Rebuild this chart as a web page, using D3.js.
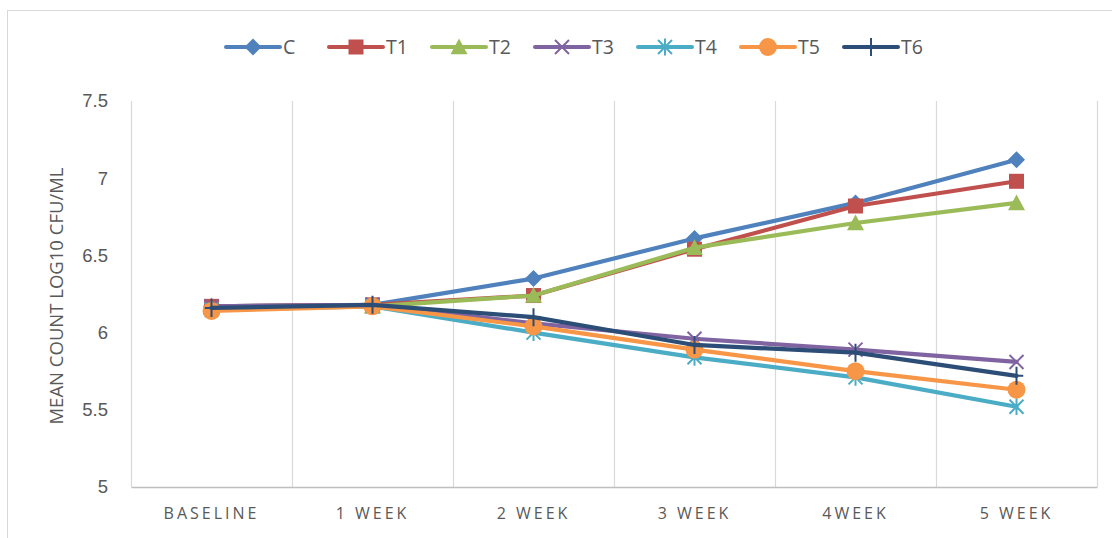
<!DOCTYPE html>
<html>
<head>
<meta charset="utf-8">
<script src="https://cdn.jsdelivr.net/npm/d3@7"></script>
<style>
  html, body { margin: 0; padding: 0; background: #fff; }
  svg { display: block; font-family: "Open Sans", "Liberation Sans", sans-serif; }
</style>
</head>
<body>
<svg id="chart" width="1112" height="538"></svg>
<script>
// Time points along the x axis
const categories = ["BASELINE", "1 WEEK", "2 WEEK", "3 WEEK", "4WEEK", "5 WEEK"];

// Mean count (log10 CFU/ml) for each group
const seriesC  = [6.17, 6.18, 6.35, 6.61, 6.84, 7.12];
const seriesT1 = [6.17, 6.18, 6.24, 6.54, 6.82, 6.98];
const seriesT2 = [6.16, 6.17, 6.24, 6.55, 6.71, 6.84];
const seriesT3 = [6.17, 6.18, 6.06, 5.96, 5.89, 5.81];
const seriesT4 = [6.15, 6.17, 6.00, 5.84, 5.71, 5.52];
const seriesT5 = [6.14, 6.17, 6.04, 5.89, 5.75, 5.63];
const seriesT6 = [6.16, 6.18, 6.10, 5.92, 5.87, 5.72];

const seriesNames = ["C", "T1", "T2", "T3", "T4", "T5", "T6"];
const yTicks = [5, 5.5, 6, 6.5, 7, 7.5];
const yTitle = "MEAN COUNT LOG10 CFU/ML";

const series = [
  { name: "C",  values: seriesC,  color: "#4F81BD", marker: "diamond" },
  { name: "T1", values: seriesT1, color: "#C0504D", marker: "square" },
  { name: "T2", values: seriesT2, color: "#9BBB59", marker: "triangle" },
  { name: "T3", values: seriesT3, color: "#8064A2", marker: "x" },
  { name: "T4", values: seriesT4, color: "#4BACC6", marker: "star" },
  { name: "T5", values: seriesT5, color: "#F79646", marker: "circle" },
  { name: "T6", values: seriesT6, color: "#2C4D75", marker: "plus" }
];

const svg = d3.select("#chart");

// Outer chart frame
svg.append("rect")
  .attr("x", 7.5).attr("y", 10.5)
  .attr("width", 1120).attr("height", 560)
  .attr("fill", "none").attr("stroke", "#d9d9d9").attr("stroke-width", 1);

const plot = { left: 131, right: 1097, top: 101, bottom: 487 };

const x = d3.scaleBand().domain(categories).range([plot.left, plot.right]).padding(0);
const y = d3.scaleLinear().domain([5, 7.5]).range([plot.bottom, plot.top]);

// Vertical gridlines between categories
const gridX = categories.map(c => x(c)).concat([plot.right]);
svg.append("g").selectAll("line").data(gridX).join("line")
  .attr("x1", d => Math.round(d) + 0.5).attr("x2", d => Math.round(d) + 0.5)
  .attr("y1", plot.top).attr("y2", plot.bottom)
  .attr("stroke", "#d9d9d9").attr("stroke-width", 1.2);

// Category axis
const xAxis = svg.append("g")
  .attr("transform", `translate(0,${plot.bottom})`)
  .call(d3.axisBottom(x).tickSize(0).tickPadding(21));
xAxis.select(".domain").attr("stroke", "#bfbfbf").attr("stroke-width", 1.5);
xAxis.selectAll("text")
  .attr("font-size", 16).attr("fill", "#595959")
  .attr("letter-spacing", "3px")
  .attr("font-family", "'Open Sans', sans-serif");

// Value axis (labels only)
const yAxis = svg.append("g")
  .attr("transform", `translate(${plot.left},0)`)
  .call(d3.axisLeft(y).tickValues(yTicks).tickFormat(d3.format("~g")).tickSize(0).tickPadding(23));
yAxis.select(".domain").remove();
yAxis.selectAll("text").attr("font-size", 18.5).attr("fill", "#595959");

// Axis title
svg.append("text")
  .attr("transform", `translate(63,${(plot.top + plot.bottom) / 2 + 2}) rotate(-90)`)
  .attr("text-anchor", "middle")
  .attr("font-size", 18.5).attr("fill", "#595959")
  .text(yTitle);

// Marker shapes
function drawMarker(g, type, color, cx, cy, scale) {
  const s = scale || 1;
  if (type === "diamond") {
    const r = 8.5 * s;
    g.append("path").attr("d", `M${cx},${cy - r}L${cx + r},${cy}L${cx},${cy + r}L${cx - r},${cy}Z`).attr("fill", color);
  } else if (type === "square") {
    const h = 7.5 * s;
    g.append("rect").attr("x", cx - h).attr("y", cy - h).attr("width", 2 * h).attr("height", 2 * h).attr("fill", color);
  } else if (type === "triangle") {
    const h = 8.5 * s;
    g.append("path").attr("d", `M${cx},${cy - h}L${cx + h},${cy + h * 0.85}L${cx - h},${cy + h * 0.85}Z`).attr("fill", color);
  } else if (type === "x") {
    const h = 7 * s;
    g.append("path").attr("d", `M${cx - h},${cy - h}L${cx + h},${cy + h}M${cx + h},${cy - h}L${cx - h},${cy + h}`)
      .attr("stroke", color).attr("stroke-width", 2).attr("fill", "none");
  } else if (type === "star") {
    const h = 7 * s;
    g.append("path").attr("d",
      `M${cx - h},${cy - h}L${cx + h},${cy + h}M${cx + h},${cy - h}L${cx - h},${cy + h}M${cx},${cy - h * 1.2}L${cx},${cy + h * 1.2}`)
      .attr("stroke", color).attr("stroke-width", 2).attr("fill", "none");
  } else if (type === "circle") {
    g.append("circle").attr("cx", cx).attr("cy", cy).attr("r", 9 * s).attr("fill", color);
  } else if (type === "plus") {
    const h = 9 * s;
    g.append("path").attr("d", `M${cx - h * 0.75},${cy}L${cx + h * 0.75},${cy}M${cx},${cy - h}L${cx},${cy + h}`)
      .attr("stroke", color).attr("stroke-width", 2).attr("fill", "none");
  }
}

const cx = c => x(c) + x.bandwidth() / 2;
const line = d3.line().x((d, i) => cx(categories[i])).y(d => y(d));

// Series lines with markers
series.forEach(s => {
  const g = svg.append("g");
  g.append("path").attr("d", line(s.values))
    .attr("fill", "none").attr("stroke", s.color).attr("stroke-width", 4.2)
    .attr("stroke-linejoin", "round").attr("stroke-linecap", "round");
  s.values.forEach((v, i) => drawMarker(g, s.marker, s.color, cx(categories[i]), y(v)));
});

// Legend
const legendX0 = 226, legendStep = 103, legendY = 47;
const legend = svg.append("g");
series.forEach((s, i) => {
  const lx = legendX0 + i * legendStep;
  const g = legend.append("g");
  g.append("line").attr("x1", lx).attr("x2", lx + 54).attr("y1", legendY).attr("y2", legendY)
    .attr("stroke", s.color).attr("stroke-width", 4).attr("stroke-linecap", "round");
  drawMarker(g, s.marker, s.color, lx + 27, legendY, 1);
  g.append("text").attr("x", lx + 57).attr("y", legendY + 7)
    .attr("font-size", 19.5).attr("fill", "#595959").text(seriesNames[i]);
});
</script>
</body>
</html>
